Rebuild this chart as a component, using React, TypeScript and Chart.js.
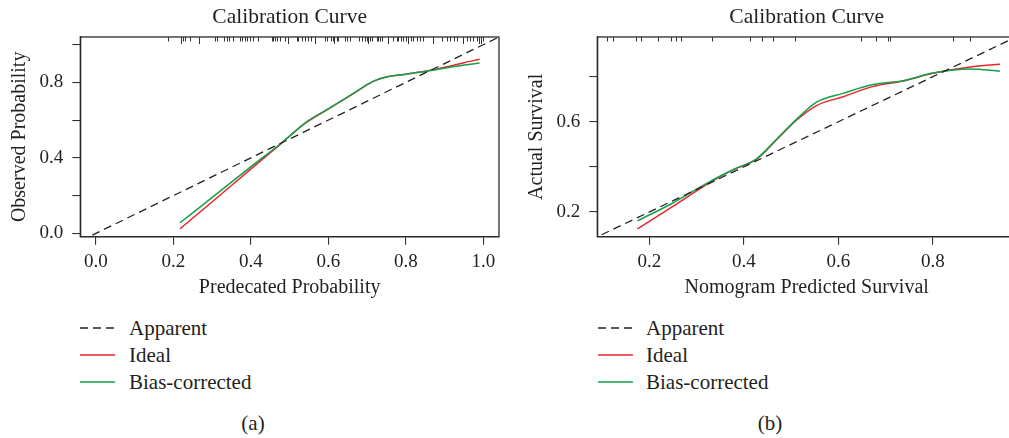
import React, { useEffect, useRef } from "react";
import { Chart, registerables } from "chart.js";

Chart.register(...registerables);

const FONT = "'Liberation Serif', 'Times New Roman', serif";
const INK = "#231f20";
const RED = "#ec2329";
const GREEN = "#12a04a";

// ---------- Panel (a) ----------
const aIdealX = [0.217, 0.3, 0.4, 0.48, 0.54, 0.6, 0.66, 0.716, 0.75, 0.8, 0.86, 0.91, 0.95, 0.99];
const aIdealY = [0.024, 0.167, 0.341, 0.479, 0.583, 0.659, 0.735, 0.805, 0.828, 0.843, 0.862, 0.884, 0.904, 0.922];
const aBiasX = [0.217, 0.3, 0.4, 0.48, 0.54, 0.6, 0.66, 0.716, 0.75, 0.8, 0.86, 0.91, 0.95, 0.99];
const aBiasY = [0.056, 0.19, 0.353, 0.481, 0.585, 0.66, 0.736, 0.806, 0.829, 0.843, 0.861, 0.878, 0.892, 0.902];
const aApparentX = [-0.1, 1.1];
const aApparentY = [-0.1, 1.1];
const aRug = [0.187, 0.219, 0.224, 0.23, 0.243, 0.267, 0.307, 0.313, 0.331, 0.337, 0.343, 0.354, 0.372, 0.378, 0.385, 0.39, 0.397, 0.406, 0.419, 0.453, 0.458, 0.462, 0.468, 0.475, 0.488, 0.496, 0.518, 0.522, 0.531, 0.539, 0.546, 0.554, 0.565, 0.591, 0.597, 0.606, 0.611, 0.615, 0.621, 0.625, 0.643, 0.647, 0.655, 0.679, 0.686, 0.694, 0.699, 0.703, 0.707, 0.711, 0.724, 0.729, 0.733, 0.737, 0.754, 0.767, 0.776, 0.78, 0.786, 0.793, 0.8, 0.806, 0.812, 0.819, 0.828, 0.836, 0.845, 0.87, 0.892, 0.905, 0.914, 0.924, 0.931, 0.948, 0.957, 0.965, 0.974, 0.982, 0.988, 0.994, 0.999];
const aRugCount = [1, 2, 1, 1, 1, 2, 1, 1, 1, 1, 1, 1, 1, 1, 1, 1, 1, 1, 1, 1, 1, 1, 1, 1, 1, 2, 1, 1, 1, 1, 1, 1, 2, 1, 1, 1, 1, 2, 1, 1, 1, 1, 1, 1, 1, 1, 1, 2, 1, 1, 1, 1, 1, 1, 2, 1, 1, 1, 1, 1, 1, 2, 1, 1, 1, 1, 1, 2, 1, 1, 1, 1, 1, 2, 1, 1, 1, 1, 2, 2, 1];
const aXTicks = [0, 0.2, 0.4, 0.6, 0.8, 1.0];
const aXLabels = ["0.0", "0.2", "0.4", "0.6", "0.8", "1.0"];
const aYTicks = [0, 0.2, 0.4, 0.6, 0.8, 1.0];
const aYLabels = ["0.0", "", "0.4", "", "0.8", ""];

// ---------- Panel (b) ----------
const bIdealX = [0.175, 0.25, 0.328, 0.38, 0.427, 0.47, 0.512, 0.554, 0.61, 0.674, 0.737, 0.8, 0.879, 0.942];
const bIdealY = [0.125, 0.225, 0.33, 0.39, 0.434, 0.522, 0.608, 0.672, 0.711, 0.757, 0.781, 0.815, 0.843, 0.855];
const bBiasX = [0.175, 0.25, 0.328, 0.38, 0.427, 0.47, 0.512, 0.554, 0.61, 0.674, 0.737, 0.8, 0.879, 0.942];
const bBiasY = [0.161, 0.24, 0.335, 0.39, 0.436, 0.524, 0.612, 0.687, 0.726, 0.765, 0.782, 0.816, 0.834, 0.824];
const bApparentX = [0.0, 1.1];
const bApparentY = [0.0, 1.1];
const bRug = [0.111, 0.124, 0.172, 0.182, 0.218, 0.246, 0.256, 0.267, 0.332, 0.413, 0.438, 0.462, 0.508, 0.648, 0.679, 0.705, 0.709, 0.843, 0.879];
const bRugCount = [1, 1, 1, 1, 1, 1, 1, 1, 1, 1, 1, 1, 1, 1, 1, 1, 1, 1, 1];
const bXTicks = [0.2, 0.4, 0.6, 0.8];
const bXLabels = ["0.2", "0.4", "0.6", "0.8"];
const bYTicks = [0.2, 0.4, 0.6, 0.8];
const bYLabels = ["0.2", "", "0.6", ""];

const legendLabels = ["Apparent", "Ideal", "Bias-corrected"];
const titleText = "Calibration Curve";

const pts = (xs: number[], ys: number[]) => xs.map((x, i) => ({ x, y: ys[i] }));

const frameRugPlugin = {
  id: "frameRug",
  afterDatasetsDraw(chart: any, _args: any, opts: any) {
    const { ctx, chartArea: a, scales } = chart;
    ctx.save();
    ctx.strokeStyle = "#2b2b2b";
    ctx.lineWidth = 1.3;
    ctx.strokeRect(a.left, a.top, a.right - a.left, a.bottom - a.top);
    const vals: number[] = opts.values || [];
    const counts: number[] = opts.counts || [];
    ctx.lineWidth = 1;
    ctx.strokeStyle = "#333";
    ctx.beginPath();
    vals.forEach((v, i) => {
      const x = Math.round(scales.x.getPixelForValue(v)) + 0.5;
      const len = 4.5 + ((counts[i] || 1) - 1) * 2.5;
      ctx.moveTo(x, a.top);
      ctx.lineTo(x, a.top + len);
    });
    ctx.stroke();
    ctx.restore();
  },
};

type PanelProps = {
  left: number;
  width: number;
  height: number;
  padRight: number;
  yAxisWidth: number;
  yTitlePad: number;
  xTitle: string;
  yTitle: string;
  xMin: number;
  xMax: number;
  yMin: number;
  yMax: number;
  xTicks: number[];
  xLabels: string[];
  yTicks: number[];
  yLabels: string[];
  ideal: { x: number; y: number }[];
  bias: { x: number; y: number }[];
  apparent: { x: number; y: number }[];
  rug: number[];
  rugCount: number[];
};

function Panel(p: PanelProps) {
  const ref = useRef<HTMLCanvasElement | null>(null);
  useEffect(() => {
    if (!ref.current) return;
    const tickFont = { family: FONT, size: 19 };
    const axisFont = { family: FONT, size: 20 };
    const titleFont = { family: FONT, size: 21.5 };
    const chart = new Chart(ref.current, {
      type: "line",
      data: {
        datasets: [
          {
            label: legendLabels[0],
            data: p.apparent,
            borderColor: "#222",
            borderWidth: 1.3,
            borderDash: [8, 5],
            pointRadius: 0,
            fill: false,
            tension: 0,
            order: 0,
          },
          {
            label: legendLabels[1],
            data: p.ideal,
            borderColor: RED,
            borderWidth: 1.5,
            pointRadius: 0,
            fill: false,
            cubicInterpolationMode: "monotone",
            order: 2,
          },
          {
            label: legendLabels[2],
            data: p.bias,
            borderColor: GREEN,
            borderWidth: 1.5,
            pointRadius: 0,
            fill: false,
            cubicInterpolationMode: "monotone",
            order: 1,
          },
        ],
      },
      options: {
        responsive: false,
        animation: false,
        events: [],
        layout: { padding: { left: 0, right: p.padRight, top: 0, bottom: 0 } },
        plugins: {
          legend: { display: false },
          tooltip: { enabled: false },
          title: {
            display: true,
            text: titleText,
            fullSize: false,
            color: INK,
            font: { ...titleFont, weight: "normal", lineHeight: 1.2 },
            padding: { top: 4, bottom: 7.2 },
          },
          frameRug: { values: p.rug, counts: p.rugCount },
        } as any,
        scales: {
          x: {
            type: "linear",
            min: p.xMin,
            max: p.xMax,
            afterBuildTicks: (s: any) => {
              s.ticks = p.xTicks.map((v) => ({ value: v }));
            },
            afterFit: (s: any) => {
              s.height = 63.3;
            },
            ticks: {
              autoSkip: false,
              maxRotation: 0,
              color: INK,
              font: tickFont,
              padding: 6,
              callback: (_v: any, i: number) => p.xLabels[i],
            },
            grid: {
              display: true,
              drawOnChartArea: false,
              drawTicks: true,
              tickLength: 8,
              color: "#333",
              lineWidth: 1.1,
            },
            border: { display: true, color: "#2b2b2b", width: 1.3 },
            title: {
              display: true,
              text: p.xTitle,
              color: INK,
              font: axisFont,
              padding: { top: 0, bottom: 0 },
            },
          },
          y: {
            type: "linear",
            min: p.yMin,
            max: p.yMax,
            afterBuildTicks: (s: any) => {
              s.ticks = p.yTicks.map((v) => ({ value: v }));
            },
            afterFit: (s: any) => {
              s.width = p.yAxisWidth;
            },
            ticks: {
              autoSkip: false,
              color: INK,
              font: tickFont,
              padding: 9,
              callback: (_v: any, i: number) => p.yLabels[i],
            },
            grid: {
              display: true,
              drawOnChartArea: false,
              drawTicks: true,
              tickLength: 8,
              color: "#333",
              lineWidth: 1.1,
            },
            border: { display: true, color: "#2b2b2b", width: 1.3 },
            title: {
              display: true,
              text: p.yTitle,
              color: INK,
              font: axisFont,
              padding: { top: p.yTitlePad, bottom: 0 },
            },
          },
        },
      },
      plugins: [frameRugPlugin as any],
    } as any);
    return () => chart.destroy();
  }, []);
  return (
    <canvas
      ref={ref}
      width={p.width}
      height={p.height}
      style={{ position: "absolute", left: p.left, top: 0, width: p.width, height: p.height }}
    />
  );
}

function Legend({ left, textLeft }: { left: number; textLeft: number }) {
  const rows = [328, 355, 382];
  const styles = [
    { color: "#222", dash: "8 5" },
    { color: RED, dash: "" },
    { color: GREEN, dash: "" },
  ];
  return (
    <>
      {legendLabels.map((lab, i) => (
        <React.Fragment key={lab}>
          <svg
            width={36}
            height={4}
            style={{ position: "absolute", left, top: rows[i] - 2 }}
          >
            <line
              x1={0}
              y1={2}
              x2={35}
              y2={2}
              stroke={styles[i].color}
              strokeWidth={1.4}
              strokeDasharray={styles[i].dash || undefined}
            />
          </svg>
          <div
            style={{
              position: "absolute",
              left: textLeft,
              top: rows[i] - 13,
              height: 26,
              lineHeight: "26px",
              fontFamily: FONT,
              fontSize: 21,
              color: INK,
              whiteSpace: "nowrap",
            }}
          >
            {lab}
          </div>
        </React.Fragment>
      ))}
    </>
  );
}

const captionStyle: React.CSSProperties = {
  position: "absolute",
  width: 40,
  top: 410,
  height: 26,
  lineHeight: "26px",
  textAlign: "center",
  fontFamily: FONT,
  fontSize: 21,
  color: INK,
};

export default function App() {
  return (
    <div
      style={{
        position: "fixed",
        left: 0,
        top: 0,
        width: 1009,
        height: 438,
        overflow: "hidden",
        background: "#fff",
      }}
    >
      <Panel
        left={0}
        width={510}
        height={300}
        padRight={11}
        yAxisWidth={80.3}
        yTitlePad={8}
        xTitle="Predecated Probability"
        yTitle="Observed Probability"
        xMin={-0.0405}
        xMax={1.04}
        yMin={-0.018}
        yMax={1.04}
        xTicks={aXTicks}
        xLabels={aXLabels}
        yTicks={aYTicks}
        yLabels={aYLabels}
        ideal={pts(aIdealX, aIdealY)}
        bias={pts(aBiasX, aBiasY)}
        apparent={pts(aApparentX, aApparentY)}
        rug={aRug}
        rugCount={aRugCount}
      />
      <Panel
        left={510}
        width={520}
        height={300}
        padRight={14}
        yAxisWidth={87.3}
        yTitlePad={14.7}
        xTitle="Nomogram Predicted Survival"
        yTitle="Actual Survival"
        xMin={0.09}
        xMax={0.976}
        yMin={0.0905}
        yMax={0.976}
        xTicks={bXTicks}
        xLabels={bXLabels}
        yTicks={bYTicks}
        yLabels={bYLabels}
        ideal={pts(bIdealX, bIdealY)}
        bias={pts(bBiasX, bBiasY)}
        apparent={pts(bApparentX, bApparentY)}
        rug={bRug}
        rugCount={bRugCount}
      />
      <Legend left={80} textLeft={129} />
      <Legend left={598} textLeft={646} />
      <div style={{ ...captionStyle, left: 233 }}>(a)</div>
      <div style={{ ...captionStyle, left: 750 }}>(b)</div>
    </div>
  );
}
